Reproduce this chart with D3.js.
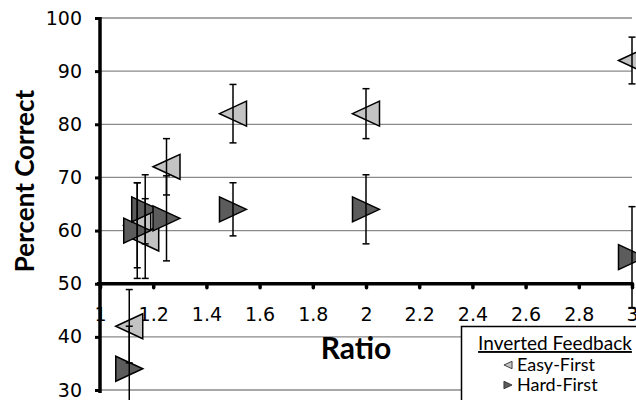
<!DOCTYPE html>
<html><head><meta charset="utf-8">
<script src="https://cdn.jsdelivr.net/npm/d3@7"></script>
<style>body{margin:0;background:#fff}svg{display:block}</style>
</head><body>
<svg id="c" width="636" height="400"></svg>
<script>
const ratios   = [1.11, 1.14, 1.17, 1.25, 1.5, 2, 3];
const easyVals = [42, 61, 58.5, 72, 82, 82, 92];
const easyErr  = [6.9, 8, 7.5, 5.3, 5.5, 4.7, 4.4];
const hardVals = [34, 60, 64, 62.3, 64, 64, 55];
const hardErr  = [8, 9, 6.5, 8, 5, 6.5, 9.5];
const xTicks = [1, 1.2, 1.4, 1.6, 1.8, 2, 2.2, 2.4, 2.6, 2.8, 3];
const yTicks = [30, 40, 50, 60, 70, 80, 90, 100];
const seriesNames = ["Easy-First", "Hard-First"];

const svg = d3.select("#c");
const x = d3.scaleLinear().domain([1, 3]).range([100, 632]);
const y = d3.scaleLinear().domain([30, 100]).range([390, 18]);

// gridlines
svg.append("g").selectAll("line").data(yTicks.filter(v => v !== 50)).join("line")
  .attr("x1", x(1)).attr("x2", x(3))
  .attr("y1", d => y(d)).attr("y2", d => y(d))
  .attr("stroke", "#8a8a8a").attr("stroke-width", 1.3);

// x axis at y=50
const xAxis = d3.axisBottom(x).tickValues(xTicks).tickFormat(d => d3.format("")(+d.toFixed(1))).tickSize(4).tickPadding(20);
const gx = svg.append("g").attr("transform", `translate(0,${y(50)})`).call(xAxis);
gx.select(".domain").remove();
gx.selectAll(".tick line").attr("stroke", "#000").attr("stroke-width", 3.5).attr("stroke-linecap", "round");
gx.selectAll(".tick text").attr("font-family", "DejaVu Sans").attr("font-size", 19).attr("fill", "#000");
svg.append("line").attr("x1", 97).attr("x2", x(3)).attr("y1", y(50)).attr("y2", y(50))
  .attr("stroke", "#000").attr("stroke-width", 3.5);

// y axis
const yAxis = d3.axisLeft(y).tickValues(yTicks).tickSize(5).tickPadding(13);
const gy = svg.append("g").attr("transform", `translate(${x(1)},0)`).call(yAxis);
gy.select(".domain").remove();
gy.selectAll(".tick line").attr("stroke", "#000").attr("stroke-width", 3);
gy.selectAll(".tick text").attr("font-family", "DejaVu Sans").attr("font-size", 19).attr("fill", "#000");

const easyData = ratios.map((r, i) => ({x: r, v: easyVals[i], e: easyErr[i]}));
const hardData = ratios.map((r, i) => ({x: r, v: hardVals[i], e: hardErr[i]}));

const leftTri = "M-13.5,0L13.5,-12.5L13.5,12.5Z";
const rightTri = "M13.5,0L-13.5,-12.5L-13.5,12.5Z";

function markers(data, path, fill) {
  svg.append("g").selectAll("path").data(data).join("path")
    .attr("d", path)
    .attr("transform", d => `translate(${x(d.x)},${y(d.v)})`)
    .attr("fill", fill).attr("stroke", "#000").attr("stroke-width", 1.5);
}
function errBars(data) {
  const g = svg.append("g").attr("stroke", "#000").attr("stroke-width", 1.5);
  g.selectAll(".v").data(data).join("line")
    .attr("x1", d => x(d.x)).attr("x2", d => x(d.x))
    .attr("y1", d => y(d.v + d.e)).attr("y2", d => y(d.v - d.e));
  g.selectAll(".t").data(data).join("line")
    .attr("x1", d => x(d.x) - 3.5).attr("x2", d => x(d.x) + 3.5)
    .attr("y1", d => y(d.v + d.e)).attr("y2", d => y(d.v + d.e));
  g.selectAll(".b").data(data).join("line")
    .attr("x1", d => x(d.x) - 3.5).attr("x2", d => x(d.x) + 3.5)
    .attr("y1", d => y(d.v - d.e)).attr("y2", d => y(d.v - d.e));
}
markers(easyData, leftTri, "#c3c3c3");
markers(hardData, rightTri, "#5c5c5c");
errBars(easyData);
errBars(hardData);

// y axis line on top
svg.append("line").attr("x1", x(1)).attr("x2", x(1)).attr("y1", y(100) - 1).attr("y2", 393)
  .attr("stroke", "#000").attr("stroke-width", 3.5);

// axis titles
svg.append("text").attr("transform", "translate(34,181) rotate(-90)")
  .attr("text-anchor", "middle").attr("font-family", "Lato").attr("font-weight", "bold")
  .attr("font-size", 26).text("Percent Correct");
svg.append("text").attr("x", 356).attr("y", 359)
  .attr("text-anchor", "middle").attr("font-family", "Lato").attr("font-weight", "bold")
  .attr("font-size", 30).text("Ratio");

// legend
const lg = svg.append("g");
lg.append("rect").attr("x", 461.5).attr("y", 326.5).attr("width", 200).attr("height", 100)
  .attr("fill", "#fff").attr("stroke", "#000").attr("stroke-width", 1.5);
lg.append("text").attr("x", 555).attr("y", 350).attr("text-anchor", "middle")
  .attr("font-family", "Lato").attr("font-size", 19).attr("text-decoration", "underline")
  .text("Inverted Feedback");
const legSym = [leftTri, rightTri], legFill = ["#c3c3c3", "#5c5c5c"];
seriesNames.forEach((n, i) => {
  const yy = 365 + i * 20;
  lg.append("path").attr("d", legSym[i]).attr("transform", `translate(508,${yy}) scale(0.3)`)
    .attr("fill", legFill[i]).attr("stroke", "#333").attr("stroke-width", 3);
  lg.append("text").attr("x", 517).attr("y", yy + 6).attr("font-family", "Lato").attr("font-size", 18).text(n);
});
</script>
</body></html>
